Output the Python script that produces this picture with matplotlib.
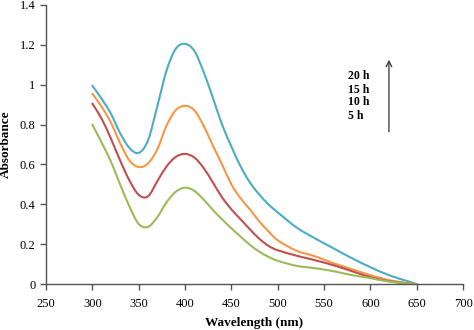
import matplotlib
matplotlib.use("Agg")
import matplotlib.pyplot as plt
from matplotlib.path import Path
from matplotlib.patches import PathPatch

# longitudes de onda (nm) comunes a las cuatro curvas
wavelength = [300, 310, 320, 330, 340, 350, 360, 370, 380, 390, 400, 410, 420, 430,
              440, 450, 460, 470, 480, 490, 500, 520, 540, 560, 580, 600, 620, 640, 650]

abs_20h = [0.995, 0.93, 0.855, 0.757, 0.683, 0.658, 0.72, 0.89, 1.07, 1.18, 1.205, 1.17, 1.065, 0.935,
           0.80, 0.69, 0.59, 0.51, 0.45, 0.40, 0.36, 0.285, 0.23, 0.18, 0.13, 0.085, 0.045, 0.015, 0.0]
abs_15h = [0.955, 0.89, 0.81, 0.707, 0.62, 0.587, 0.605, 0.675, 0.795, 0.872, 0.894, 0.872, 0.795, 0.695,
           0.60, 0.50, 0.43, 0.375, 0.315, 0.265, 0.22, 0.168, 0.14, 0.105, 0.075, 0.045, 0.02, 0.006, 0.0]
abs_10h = [0.905, 0.83, 0.73, 0.62, 0.52, 0.448, 0.44, 0.515, 0.59, 0.638, 0.653, 0.635, 0.583, 0.51,
           0.435, 0.375, 0.325, 0.275, 0.228, 0.192, 0.17, 0.143, 0.12, 0.095, 0.065, 0.035, 0.015, 0.004, 0.0]
abs_5h = [0.80, 0.71, 0.615, 0.50, 0.39, 0.302, 0.287, 0.335, 0.41, 0.463, 0.484, 0.468, 0.425, 0.372,
          0.325, 0.28, 0.238, 0.197, 0.163, 0.137, 0.117, 0.092, 0.08, 0.065, 0.045, 0.03, 0.013, 0.004, 0.0]

time_labels = ["20 h", "15 h", "10 h", "5 h"]
xticks = [250, 300, 350, 400, 450, 500, 550, 600, 650, 700]
yticks = [0, 0.2, 0.4, 0.6, 0.8, 1.0, 1.2, 1.4]
ytick_labels = ["0", "0.2", "0.4", "0.6", "0.8", "1", "1.2", "1.4"]

plt.rcParams["font.family"] = ["Liberation Serif", "DejaVu Serif"]


# linea suavizada como en Excel: curvas de Bezier que pasan por los puntos
def linea_suave(ax, xs, ys, color):
    pts = list(zip(xs, ys))
    verts = [pts[0]]
    codes = [Path.MOVETO]
    n = len(pts)
    for i in range(n - 1):
        p0 = pts[i - 1] if i > 0 else pts[i]
        p1 = pts[i]
        p2 = pts[i + 1]
        p3 = pts[i + 2] if i + 2 < n else pts[i + 1]
        c1 = (p1[0] + (p2[0] - p0[0]) / 6, p1[1] + (p2[1] - p0[1]) / 6)
        c2 = (p2[0] - (p3[0] - p1[0]) / 6, p2[1] - (p3[1] - p1[1]) / 6)
        verts += [c1, c2, p2]
        codes += [Path.CURVE4] * 3
    ax.add_patch(PathPatch(Path(verts, codes), fill=False, edgecolor=color, lw=1.5,
                           capstyle="round", joinstyle="round"))


fig = plt.figure(figsize=(4.74, 3.30), dpi=100)
ax = fig.add_axes([0.097, 0.139, 0.880, 0.846])

# colores tipo Excel 2007
linea_suave(ax, wavelength, abs_20h, "#4bacc6")
linea_suave(ax, wavelength, abs_15h, "#f79646")
linea_suave(ax, wavelength, abs_10h, "#c0504d")
linea_suave(ax, wavelength, abs_5h, "#9bbb59")

ax.set_xlim(250, 700)
ax.set_ylim(0, 1.4)
ax.set_xticks(xticks)
ax.set_yticks(yticks)
ax.set_yticklabels(ytick_labels)
ax.tick_params(direction="out", length=4, width=1, labelsize=9, color="#555555")
ax.tick_params(axis="x", pad=6)

for lado in ["top", "right"]:
    ax.spines[lado].set_visible(False)
for lado in ["left", "bottom"]:
    ax.spines[lado].set_color("#555555")
    ax.spines[lado].set_linewidth(1)

ax.set_xlabel("Wavelength (nm)", fontsize=9.5, fontweight="bold", labelpad=5)
ax.set_ylabel("Absorbance", fontsize=9.5, fontweight="bold", labelpad=6)

# etiquetas de tiempo y flecha
ys = [1.045, 0.975, 0.915, 0.845]
for lab, yy in zip(time_labels, ys):
    ax.text(576, yy, lab, fontsize=8.5, fontweight="bold", va="center", ha="left")
ax.annotate("", xy=(620, 1.14), xytext=(620, 0.75),
            arrowprops=dict(arrowstyle="->", color="#444444", lw=1))

fig.savefig("out.png", dpi=100)
